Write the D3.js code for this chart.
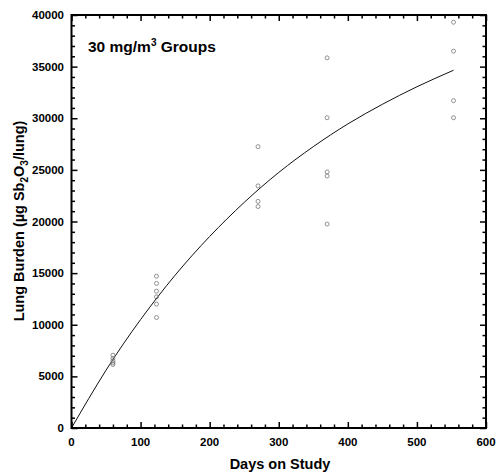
<!DOCTYPE html>
<html><head><meta charset="utf-8">
<script src="https://cdn.jsdelivr.net/npm/d3@7"></script>
<style>body{margin:0;background:#fff}svg{display:block}</style>
</head><body><svg id="c" width="499" height="474"></svg>
<script>
// data
const days60 = [60, 60, 60, 60, 60];
const burden60 = [7050, 6750, 6500, 6300, 6150];
const days123 = [123, 123, 123, 123, 123, 123];
const burden123 = [14700, 14000, 13250, 12700, 12000, 10700];
const days270 = [270, 270, 270, 270];
const burden270 = [27250, 23450, 21950, 21450];
const days370 = [370, 370, 370, 370, 370];
const burden370 = [35850, 30050, 24800, 24400, 19750];
const days553 = [553, 553, 553, 553];
const burden553 = [39300, 36500, 31700, 30050];
const curveDays = [0, 50, 100, 150, 200, 250, 300, 350, 400, 450, 500, 553];
const curveBurden = [0, 5600, 10500, 14800, 18550, 21850, 24750, 27250, 29450, 31350, 33050, 34650];
const xTicks = [0, 100, 200, 300, 400, 500, 600];
const yTicks = [0, 5000, 10000, 15000, 20000, 25000, 30000, 35000, 40000];

const svg = d3.select("#c");
const L = 71.5, R = 486, T = 15, B = 428;
const x = d3.scaleLinear().domain([0, 600]).range([L, R]);
const y = d3.scaleLinear().domain([0, 40000]).range([B, T]);
const font = "Liberation Sans, Arial, sans-serif";

const pts = [];
[[days60, burden60], [days123, burden123], [days270, burden270], [days370, burden370], [days553, burden553]]
  .forEach(([ds, bs]) => ds.forEach((d, i) => pts.push([d, bs[i]])));

// curve
svg.append("path")
  .datum(curveDays.map((d, i) => [d, curveBurden[i]]))
  .attr("fill", "none").attr("stroke", "#111").attr("stroke-width", 1)
  .attr("d", d3.line().x(d => x(d[0])).y(d => y(d[1])).curve(d3.curveNatural));

// points
svg.append("g").selectAll("circle").data(pts).join("circle")
  .attr("cx", d => x(d[0])).attr("cy", d => y(d[1])).attr("r", 2)
  .attr("fill", "none").attr("stroke", "#777").attr("stroke-width", 0.8);

// axes with inward ticks
const minorX = d3.range(0, 601, 20).filter(v => v % 100 !== 0);
const minorY = d3.range(0, 40001, 1000).filter(v => v % 5000 !== 0);
function ax(gen, tr) {
  return svg.append("g").attr("transform", tr).call(gen)
    .call(g => g.select(".domain").remove())
    .call(g => g.selectAll("line").attr("stroke", "#000").attr("stroke-width", 1.5));
}
ax(d3.axisTop(x).tickValues(xTicks).tickSize(6).tickFormat(""), `translate(0,${B})`);
ax(d3.axisTop(x).tickValues(minorX).tickSize(3.5).tickFormat(""), `translate(0,${B})`);
ax(d3.axisBottom(x).tickValues(xTicks).tickSize(6).tickFormat(""), `translate(0,${T})`);
ax(d3.axisBottom(x).tickValues(minorX).tickSize(3.5).tickFormat(""), `translate(0,${T})`);
ax(d3.axisRight(y).tickValues(yTicks).tickSize(6).tickFormat(""), `translate(${L},0)`);
ax(d3.axisRight(y).tickValues(minorY).tickSize(3.5).tickFormat(""), `translate(${L},0)`);
ax(d3.axisLeft(y).tickValues(yTicks).tickSize(6).tickFormat(""), `translate(${R},0)`);
ax(d3.axisLeft(y).tickValues(minorY).tickSize(3.5).tickFormat(""), `translate(${R},0)`);

// frame
svg.append("rect").attr("x", L).attr("y", T).attr("width", R - L).attr("height", B - T)
  .attr("fill", "none").attr("stroke", "#000").attr("stroke-width", 2);

// tick labels
svg.append("g").selectAll("text").data(xTicks).join("text")
  .attr("x", d => x(d)).attr("y", 446).attr("text-anchor", "middle")
  .attr("font-family", font).attr("font-weight", "bold").attr("font-size", 11.5)
  .text(d => d);
svg.append("g").selectAll("text").data(yTicks).join("text")
  .attr("x", 64).attr("y", d => y(d) + 4).attr("text-anchor", "end")
  .attr("font-family", font).attr("font-weight", "bold").attr("font-size", 11.5)
  .text(d => d);

// axis titles
svg.append("text").attr("x", 280).attr("y", 469).attr("text-anchor", "middle")
  .attr("font-family", font).attr("font-weight", "bold").attr("font-size", 14.5)
  .text("Days on Study");
const yt = svg.append("text").attr("transform", "translate(24,221) rotate(-90)")
  .attr("text-anchor", "middle").attr("font-family", font).attr("font-weight", "bold").attr("font-size", 14.5);
yt.append("tspan").text("Lung Burden (µg Sb");
yt.append("tspan").attr("font-size", 10).attr("dy", 4).text("2");
yt.append("tspan").attr("dy", -4).text("O");
yt.append("tspan").attr("font-size", 10).attr("dy", 4).text("3");
yt.append("tspan").attr("dy", -4).text("/lung)");

// panel title
const tt = svg.append("text").attr("x", 88).attr("y", 52)
  .attr("font-family", font).attr("font-weight", "bold").attr("font-size", 15.5);
tt.append("tspan").text("30 mg/m");
tt.append("tspan").attr("font-size", 10).attr("dy", -6).text("3");
tt.append("tspan").attr("dy", 6).text(" Groups");
</script></body></html>
